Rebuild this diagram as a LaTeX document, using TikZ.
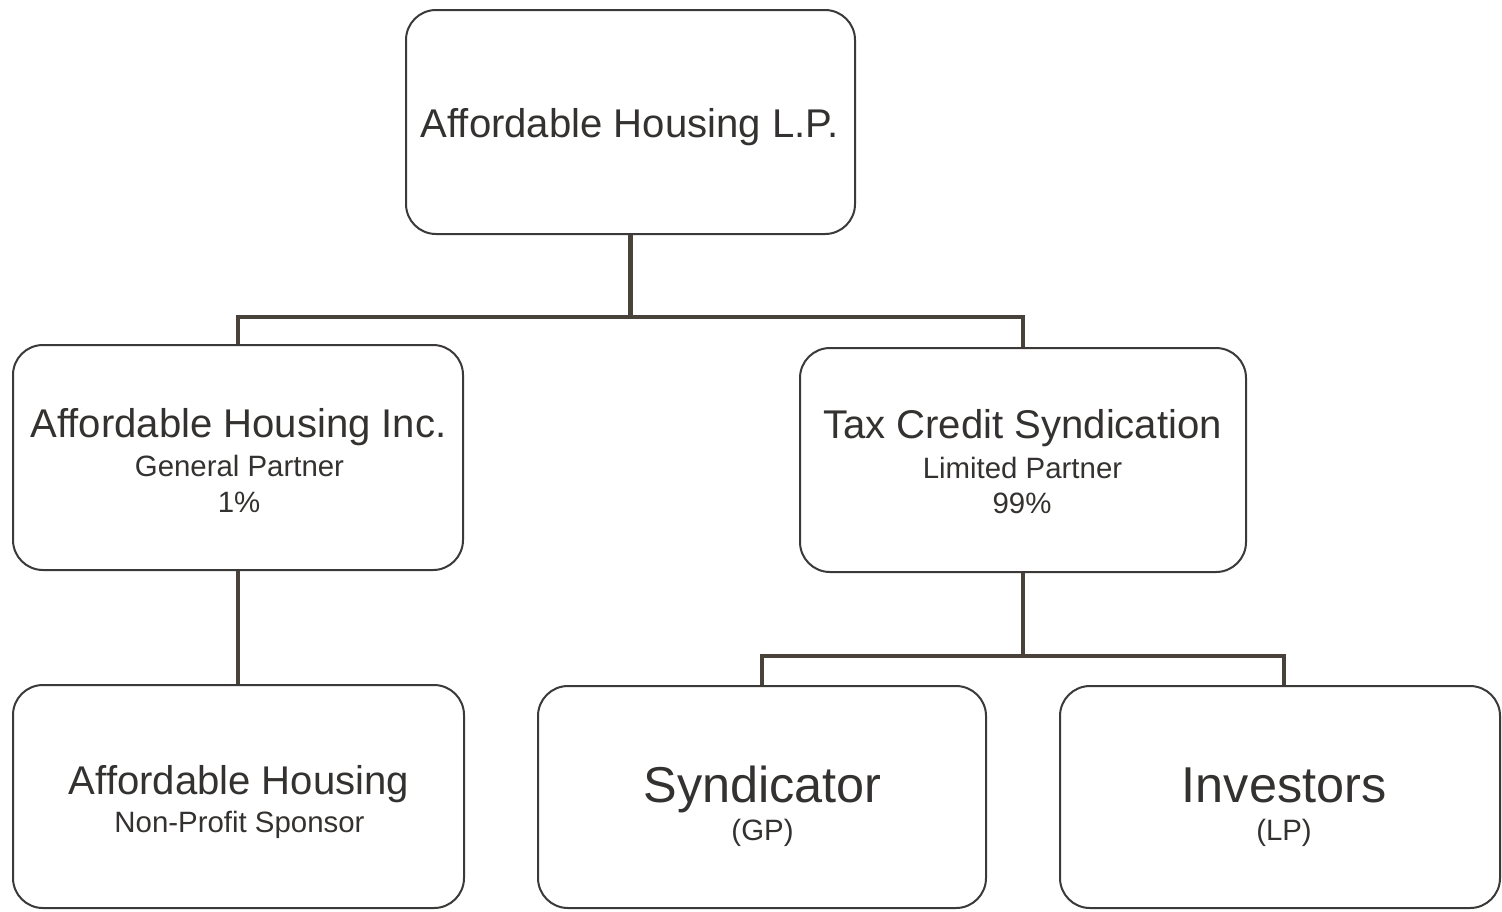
\documentclass[tikz,border=0pt]{standalone}
\usepackage{fontspec}
\setmainfont{Liberation Sans}
\definecolor{ink}{RGB}{52,50,48}
\definecolor{boxline}{RGB}{60,58,56}
\definecolor{connline}{RGB}{72,66,58}
\tikzset{
  box/.style={draw=boxline, line width=1pt, rounded corners=15pt, rectangle, inner sep=0pt, fill=white},
  conn/.style={draw=connline, line width=2.4pt},
  ttl/.style={anchor=base, inner sep=0pt, text=ink, font=\fontsize{20.05pt}{22pt}\selectfont},
  big/.style={anchor=base, inner sep=0pt, text=ink, font=\fontsize{25.2pt}{28pt}\selectfont},
  sub/.style={anchor=base, inner sep=0pt, text=ink, font=\fontsize{14.7pt}{17pt}\selectfont},
}
\begin{document}
\begin{tikzpicture}[x=0.5pt, y=-0.5pt]
\useasboundingbox[fill=white] (0,0) rectangle (1502,911);
% boxes
\node[box, minimum width=224.5pt, minimum height=112pt] (top) at (630.5,122) {};
\node[box, minimum width=225pt, minimum height=112.5pt] (inc) at (238,457.5) {};
\node[box, minimum width=223pt, minimum height=112pt] (tax) at (1023,460) {};
\node[box, minimum width=225.5pt, minimum height=111.5pt] (npo) at (238.5,796.5) {};
\node[box, minimum width=224pt, minimum height=111pt] (syn) at (762,797) {};
\node[box, minimum width=220pt, minimum height=111pt] (inv) at (1280,797) {};
% connectors
\coordinate (j1) at (630.5,317);
\coordinate (j2) at (1023,656);
\draw[conn] (top.south) -- (j1);
\draw[conn] (inc.north) |- (j1) -| (tax.north);
\draw[conn] (inc.south) -- (npo.north -| inc.south);
\draw[conn] (tax.south) -- (j2);
\draw[conn] (syn.north) |- (j2) -| ([xshift=2pt]inv.north);
% texts
\node[ttl] (topT) at (629.5,137) {Affordable Housing L.P.};
\node[ttl] (incT) at (238.5,437) {Affordable Housing Inc.};
\node[sub] (incS) at (239.5,476) {General Partner};
\node[sub] (incP) at (239,512) {1\%};
\node[ttl] (taxT) at (1022.5,438) {Tax Credit Syndication};
\node[sub] (taxS) at (1022.5,478) {Limited Partner};
\node[sub] (taxP) at (1022,513) {99\%};
\node[ttl] (npoT) at (239,794) {Affordable Housing};
\node[sub] (npoS) at (239.5,832) {Non-Profit Sponsor};
\node[big] (synT) at (762.5,802) {Syndicator};
\node[sub] (synS) at (762.5,840) {(GP)};
\node[big] (invT) at (1284,802) {Investors};
\node[sub] (invS) at (1284,840) {(LP)};
\end{tikzpicture}
\end{document}
